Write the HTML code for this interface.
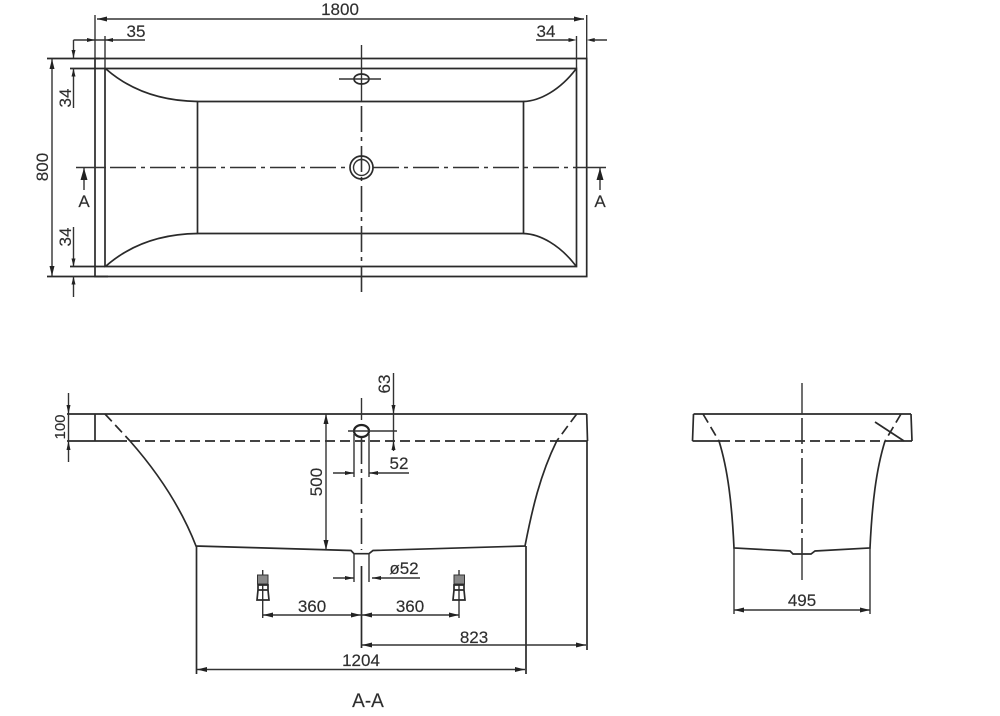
<!DOCTYPE html>
<html><head><meta charset="utf-8"><style>
html,body{margin:0;padding:0;background:#fff;width:1000px;height:716px;overflow:hidden}
svg{display:block;filter:blur(0.35px)}
text{font-family:"Liberation Sans",sans-serif;font-size:17px;fill:#2e2e2e;stroke:#2e2e2e;stroke-width:0.15;text-anchor:middle}
.l{fill:none;stroke:#2a2a2a;stroke-width:1.7}
.t{fill:none;stroke:#333;stroke-width:1.4}
.c{fill:none;stroke:#333;stroke-width:1.6;stroke-dasharray:26 5 4 5}
.d{fill:none;stroke:#2a2a2a;stroke-width:1.7;stroke-dasharray:10 5}
.a{fill:#222;stroke:none}
</style></head><body>
<svg width="1000" height="716" viewBox="0 0 1000 716" xmlns="http://www.w3.org/2000/svg">
<!-- TOP VIEW -->
<path class="l" d="M95 58.5H586.7V276.5H95ZM105 68.5H576.5V266.5H105Z"/>
<path class="l" d="M197.5 101.5H523.5V233.5H197.5Z"/>
<path class="l" d="M106 69C130 90 160 101 197.5 101.5M106 266C130 245 160 234 197.5 233.5M576 69C560 90 540 101 523.5 101.5M576 266C560 245 540 234 523.5 233.5"/>
<path class="t" d="M76 167.5H106M576 167.5H606"/>
<path class="c" d="M110 167.5H350M373 167.5H576"/>
<path class="t" d="M361.5 45V101"/>
<path class="c" d="M361.5 106V293"/>
<ellipse class="l" cx="361.5" cy="79" rx="7.5" ry="5"/>
<path class="t" d="M339 79H381"/>
<circle class="l" cx="361.5" cy="167.5" r="11.5"/>
<circle class="t" cx="361.5" cy="167.5" r="8"/>
<path class="t" d="M95 15V58M586.7 15V58M105 36V68M576.5 36V68"/>
<path class="t" d="M97 19H584"/>
<path class="a" d="M97 19l10-2.5v5ZM584 19l-10-2.5v5Z"/>
<text x="340" y="15">1800</text>
<path class="t" d="M73.5 40H145M536 40H572M590 40H607"/>
<path class="a" d="M95 40l-8-2v4ZM105 40l8-2v4ZM576.5 40l-8-2v4ZM586.7 40l8-2v4Z"/>
<text x="136" y="37">35</text><text x="546" y="37">34</text>
<path class="l" d="M47 58.5H100M70 68.5H105M70 266.5H105M47 276.5H108"/>
<path class="t" d="M73.5 40V58M73.5 68V108M73.5 227V266M73.5 276V297"/>
<path class="a" d="M73.5 58l-2-8h4ZM73.5 68.5l-2 8h4ZM73.5 266.5l-2-8h4ZM73.5 276.5l-2 8h4Z"/>
<text transform="translate(71 98) rotate(-90)" x="0" y="0">34</text>
<text transform="translate(71 237) rotate(-90)" x="0" y="0">34</text>
<path class="t" d="M52 58.5V276.5"/>
<path class="a" d="M52 59l-2.5 10h5ZM52 276l-2.5-10h5Z"/>
<text transform="translate(48 167) rotate(-90)" x="0" y="0">800</text>
<path class="t" d="M84 168V190M600 168V190"/>
<path class="a" d="M84 168l-3.5 12h7ZM600 168l-3.5 12h7Z"/>
<text x="84" y="207">A</text><text x="600" y="207">A</text>
<!-- SECTION A-A -->
<path class="l" d="M67 414H586.7M95 414V441M67 441H127M586.7 414L587.5 441M556 441H587.5"/>
<path class="d" d="M130 441H556"/>
<path class="d" d="M105 414L130 441"/>
<path class="d" d="M576.7 414L556.7 441"/>
<path class="l" d="M130 441C160 475 182 510 196 546L351 550.5L354 553.7H369L373 550.5L525 546C532 510 540 475 556.7 441"/>
<path class="l" d="M196.5 546V674M526 546V674M587 441V650"/>
<path class="t" d="M361.5 398V420"/>
<path class="c" d="M361.5 438V550"/>
<path class="l" d="M361.5 566V648"/>
<path class="t" d="M197 669.5H525M362 645H586"/>
<path class="a" d="M197 669.5l10-2.5v5ZM525 669.5l-10-2.5v5ZM362 645l10-2.5v5ZM586 645l-10-2.5v5Z"/>
<text x="361" y="666">1204</text><text x="474" y="643">823</text>
<text style="font-size:19px" x="368" y="707">A-A</text>
<ellipse cx="361.5" cy="431" rx="7.5" ry="6" fill="none" stroke="#222" stroke-width="2.2"/>
<path class="t" d="M348 431H397M354 434V477M369 434V477M354 553V582M369 553V582"/>
<path class="t" d="M333 473H354M369 473H409M333 578H354M372 578H420"/>
<path class="a" d="M354 473l-9-2v4ZM369 473l9-2v4ZM354 578l-9-2v4ZM372 578l9-2v4Z"/>
<text x="399" y="469">52</text><text x="404" y="574">ø52</text>
<path class="t" d="M393.5 373V451"/>
<path class="a" d="M393.5 414l-2-9h4ZM393.5 441l-2 9h4Z"/>
<text transform="translate(390 384) rotate(-90)" x="0" y="0">63</text>
<path class="t" d="M68.5 393V462"/>
<path class="a" d="M68.5 414l-2-9h4ZM68.5 441l-2 9h4Z"/>
<text style="font-size:15px" transform="translate(65 427) rotate(-90)" x="0" y="0">100</text>
<path class="t" d="M326 414V550"/>
<path class="a" d="M326 414l-2.5 10h5ZM326 550l-2.5-10h5Z"/>
<text transform="translate(322 482) rotate(-90)" x="0" y="0">500</text>
<path class="t" d="M262.7 570V618M459 570V618M262.7 615H459"/>
<path class="a" d="M263 615l10-2.5v5ZM361 615l-10-2.5v5ZM362 615l10-2.5v5ZM459 615l-10-2.5v5Z"/>
<rect x="257.5" y="575" width="10.5" height="9" fill="#888" stroke="#333"/>
<path class="l" d="M258 585H268V590L269 600H257L258 590ZM258 590H268"/>
<rect x="454" y="575" width="10.5" height="9" fill="#888" stroke="#333"/>
<path class="l" d="M454 585H464V590L465 600H453L454 590ZM454 590H464"/>
<text x="312" y="612">360</text><text x="410" y="612">360</text>
<!-- END VIEW -->
<path class="l" d="M693.5 414H911M693.5 414L692.5 441M911 414L912 441M692.5 441H720M885 441H912"/>
<path class="d" d="M720 441H885M703 414L719 441M901 414L885 441"/>
<path class="l" d="M719 441C728 470 732 505 734 548L790 551L793 554H811L815 551L870 548C872 505 876 470 885 441"/>
<path class="l" d="M875 422L904 441"/>
<path class="t" d="M802 383V414M802 555V580"/>
<path class="c" d="M802 418V555"/>
<path class="t" d="M734 548V614M870 548V614M734 610H870"/>
<path class="a" d="M734 610l10-2.5v5ZM870 610l-10-2.5v5Z"/>
<text x="802" y="606">495</text>
</svg>
</body></html>
